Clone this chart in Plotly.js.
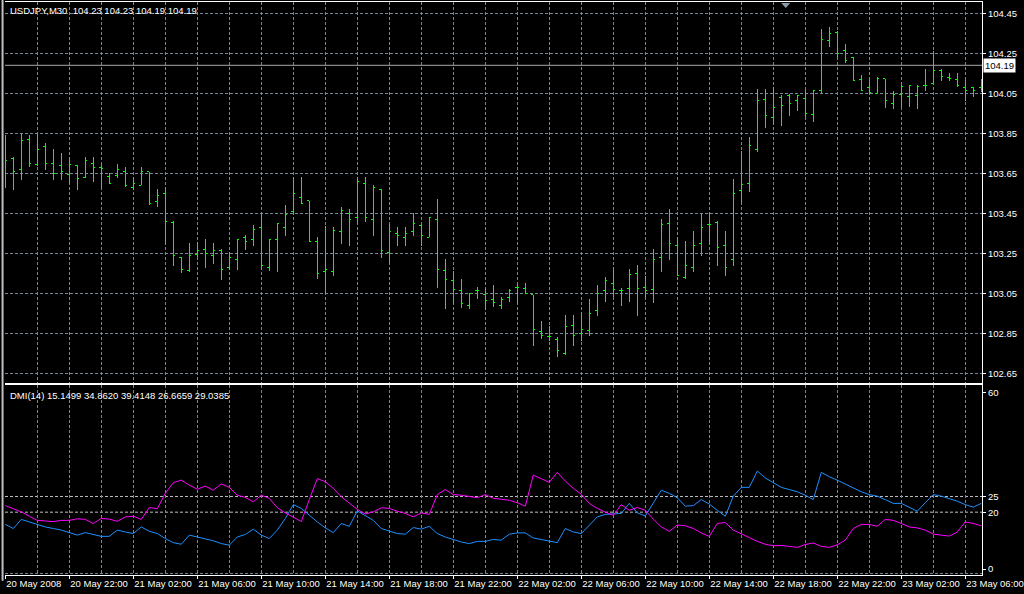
<!DOCTYPE html>
<html><head><meta charset="utf-8">
<script src="https://cdn.plot.ly/plotly-3.0.1.min.js"></script>
<style>html,body{margin:0;padding:0;background:#000;}#chart{width:1024px;height:594px;}
#chart .ohlclayer path{shape-rendering:crispEdges;}</style>
</head><body><div id="chart"></div>
<script>
// ---- data (USDJPY, M30, bars from 20 May 2008 18:00) ----
const startTime = Date.UTC(2008, 4, 20, 18, 0);
const barMinutes = 30;

const openP = [103.62,103.722,103.67,103.82,103.692,103.783,103.70,103.69,103.645,103.688,103.63,103.70,103.68,103.633,103.638,103.658,103.58,103.59,103.658,103.51,103.55,103.403,103.23,103.162,103.246,103.27,103.24,103.262,103.178,103.22,103.328,103.32,103.378,103.178,103.32,103.38,103.46,103.53,103.512,103.31,103.16,103.16,103.358,103.45,103.43,103.60,103.42,103.57,103.253,103.35,103.33,103.358,103.388,103.33,103.42,103.162,103.112,103.062,102.99,103.062,103.042,103.02,102.99,103.03,103.08,103.072,103.042,102.858,102.832,102.82,102.75,102.89,102.85,102.862,102.962,103.062,103.10,103.062,103.072,103.15,103.08,103.07,103.23,103.40,103.288,103.13,103.18,103.30,103.392,103.405,103.29,103.22,103.562,103.60,103.77,104.02,103.93,104.03,104.037,104.013,104.022,103.942,104.062,104.312,104.355,104.262,104.23,104.12,104.08,104.05,104.122,104.00,104.042,104.033,104.038,104.088,104.10,104.162,104.13,104.12,104.08,104.08,104.08];
const highP = [103.842,103.732,103.85,103.842,103.847,103.80,103.77,103.75,103.733,103.692,103.733,103.733,103.692,103.65,103.695,103.683,103.633,103.68,103.658,103.57,103.58,103.413,103.23,103.303,103.305,103.32,103.303,103.27,103.258,103.32,103.342,103.392,103.45,103.32,103.40,103.49,103.633,103.63,103.512,103.33,103.388,103.38,103.483,103.47,103.633,103.63,103.59,103.57,103.395,103.38,103.38,103.45,103.395,103.43,103.522,103.22,103.162,103.12,103.05,103.08,103.078,103.092,103.03,103.072,103.096,103.10,103.042,102.912,102.887,102.832,102.942,102.942,102.953,103.022,103.092,103.13,103.18,103.075,103.172,103.192,103.138,103.272,103.42,103.47,103.333,103.311,103.363,103.45,103.45,103.412,103.362,103.62,103.762,103.833,104.07,104.07,104.083,104.042,104.047,104.042,104.067,104.063,104.37,104.38,104.362,104.295,104.23,104.142,104.122,104.13,104.122,104.062,104.092,104.092,104.092,104.172,104.263,104.172,104.153,104.153,104.117,104.083,104.122];
const lowP = [103.575,103.567,103.617,103.683,103.687,103.667,103.617,103.617,103.595,103.567,103.625,103.608,103.575,103.596,103.628,103.58,103.567,103.59,103.492,103.48,103.296,103.188,103.15,103.158,103.233,103.178,103.196,103.117,103.167,103.167,103.267,103.288,103.17,103.163,103.158,103.338,103.44,103.50,103.308,103.12,103.05,103.136,103.296,103.288,103.408,103.408,103.338,103.228,103.2,103.288,103.288,103.338,103.288,103.33,103.078,102.97,102.996,102.975,102.97,103.02,102.966,102.98,102.97,103.008,102.996,103.05,102.788,102.82,102.813,102.73,102.742,102.788,102.813,102.838,102.938,103.008,103.033,102.988,103.008,102.938,103.025,103.0,103.158,103.216,103.138,103.12,103.158,103.238,103.296,103.188,103.138,103.188,103.508,103.558,103.758,103.878,103.895,103.888,103.938,103.963,103.933,103.908,104.053,104.28,104.225,104.2,104.112,104.062,104.047,104.05,103.978,103.97,103.98,103.98,103.97,104.062,104.1,104.112,104.112,104.08,104.012,104.03,104.058];
const closeP = [103.712,103.658,103.812,103.70,103.77,103.70,103.65,103.66,103.695,103.622,103.712,103.678,103.672,103.60,103.67,103.59,103.60,103.658,103.50,103.54,103.41,103.238,103.17,103.24,103.262,103.25,103.262,103.17,103.23,103.32,103.308,103.37,103.188,103.32,103.40,103.446,103.55,103.50,103.31,103.15,103.17,103.366,103.462,103.42,103.61,103.43,103.58,103.262,103.358,103.338,103.35,103.40,103.338,103.43,103.17,103.12,103.07,103.0,103.05,103.062,103.012,103.003,103.02,103.062,103.08,103.05,102.87,102.84,102.832,102.762,102.882,102.84,102.87,102.95,103.05,103.112,103.07,103.062,103.142,103.072,103.062,103.22,103.395,103.30,103.138,103.19,103.29,103.38,103.392,103.28,103.18,103.55,103.592,103.788,104.012,103.938,103.98,103.988,104.0,104.037,103.95,104.062,104.32,104.35,104.25,104.212,104.112,104.063,104.055,104.122,104.012,104.045,104.083,104.087,104.083,104.088,104.162,104.133,104.122,104.087,104.062,104.062,104.1];

const diPlus = [16.1,14.8,17.7,16.9,15.9,15.3,14.8,14.3,13.5,12.7,13.5,13.0,12.3,12.3,14.3,13.7,13.2,15.3,13.9,13.2,11.6,10.3,9.8,12.7,12.1,11.4,10.9,10.0,9.5,12.1,12.9,14.6,12.7,11.6,14.3,18.0,22.4,21.2,19.0,16.9,15.0,13.5,16.4,15.5,20.4,19.0,17.4,14.8,13.9,13.2,13.0,15.1,14.6,15.5,13.2,12.1,11.3,10.5,10.0,10.7,10.7,11.3,11.1,13.0,13.4,13.4,11.8,11.3,10.9,10.3,14.8,13.7,13.2,15.9,18.5,19.3,19.4,19.6,22.8,19.8,18.8,22.8,27.0,26.0,24.6,21.9,22.1,24.0,22.6,20.6,18.7,25.1,27.9,27.9,33.1,30.9,29.4,27.9,27.2,26.5,25.4,24.0,32.7,31.3,30.2,28.9,27.6,26.5,25.6,25.1,24.0,22.8,22.8,21.5,20.3,23.0,25.6,25.1,24.4,23.5,22.4,21.6,22.8];
const diMinus = [22.1,21.2,20.1,18.7,17.4,17.2,17.0,17.4,17.4,17.9,17.7,16.4,18.0,17.8,17.1,18.5,18.7,17.7,21.5,21.1,26.0,29.4,30.2,28.6,27.3,28.3,27.0,29.0,27.9,25.4,24.7,23.3,25.4,24.4,21.4,19.8,18.3,17.0,24.0,30.7,29.7,27.6,24.9,23.0,20.9,19.4,20.1,21.4,21.2,20.3,19.6,18.5,19.8,19.3,25.6,27.2,25.6,25.4,25.1,24.6,25.6,24.4,24.1,23.8,23.0,21.9,31.8,30.6,29.5,32.7,29.9,27.6,25.7,22.8,21.2,20.0,19.0,22.4,20.6,21.5,20.6,17.8,15.3,13.9,15.9,15.7,14.8,13.4,12.3,16.4,16.7,14.3,13.2,11.9,10.7,9.8,9.3,9.4,9.1,8.8,9.7,10.2,9.1,8.8,9.6,11.1,14.8,16.1,16.1,15.5,17.7,17.4,16.4,15.3,15.0,14.3,13.0,12.6,12.4,13.7,16.9,16.4,15.7];

const timeTickText = ["20 May 2008","20 May 22:00","21 May 02:00","21 May 06:00","21 May 10:00","21 May 14:00","21 May 18:00","21 May 22:00","22 May 02:00","22 May 06:00","22 May 10:00","22 May 14:00","22 May 18:00","22 May 22:00","23 May 02:00","23 May 06:00"];
const priceTicks = [102.65,102.85,103.05,103.25,103.45,103.65,103.85,104.05,104.25,104.45];
const dmiTickText = ["0","20","25","60"];
const dmiLevels = [20, 25];
const lastPrice = 104.19;
const headerText = "USDJPY,M30\u00a0\u00a0104.23 104.23 104.19 104.19";
const dmiText = "DMI(14) 15.1499 34.8620 39.4148 26.6659 29.0385";

// ---- build ----
function fmt(ms){ return new Date(ms).toISOString().slice(0,19).replace('T',' '); }
const times = openP.map((_, i) => fmt(startTime + i*barMinutes*60000));
const tickVals = timeTickText.map((_, k) => times[k*8]);

const FONT = "Liberation Sans, Arial, sans-serif";
const GRID = "#778899";
const DASH = "3px,2px";
const GREEN = "#00ff00";

const traces = [
  {type:'ohlc', x:times, open:openP, high:highP, low:lowP, close:closeP,
   xaxis:'x', yaxis:'y', tickwidth:0.25, hoverinfo:'skip',
   increasing:{line:{color:GREEN, width:1}}, decreasing:{line:{color:GREEN, width:1}}},
  {type:'scatter', mode:'lines', x:times, y:diPlus, xaxis:'x2', yaxis:'y2',
   line:{color:'#1e90ff', width:1}, hoverinfo:'skip'},
  {type:'scatter', mode:'lines', x:times, y:diMinus, xaxis:'x2', yaxis:'y2',
   line:{color:'#ff00ff', width:1}, hoverinfo:'skip'}
];

const xRange = [fmt(startTime - 68000), fmt(startTime + 122.09*barMinutes*60000)];
const xCommon = {
  type:'date', range:xRange, tickmode:'array', tickvals:tickVals,
  showgrid:true, gridcolor:GRID, griddash:DASH, gridwidth:1,
  minor:{tickmode:'linear', tick0:times[0], dtick:2*3600*1000, showgrid:true, gridcolor:GRID, griddash:DASH, gridwidth:1, ticks:''},
  zeroline:false, showline:true, linecolor:'#ffffff', linewidth:1, mirror:true,
  rangeslider:{visible:false}, fixedrange:true
};

const layout = {
  width:1024, height:594,
  paper_bgcolor:'#000000', plot_bgcolor:'#000000',
  margin:{l:5, r:42, t:2, b:19},
  showlegend:false,
  font:{family:FONT, size:9.5, color:'#ffffff'},
  xaxis: Object.assign({}, xCommon, {anchor:'y', showticklabels:false, ticks:''}),
  xaxis2: Object.assign({}, xCommon, {anchor:'y2', matches:'x', ticktext:timeTickText, showticklabels:true,
    ticks:'outside', ticklen:3, tickcolor:'#ffffff', ticklabelposition:'outside right', tickangle:0,
    tickfont:{family:FONT, size:9.5, color:'#ffffff'}}),
  yaxis: {domain:[0.3346, 1], range:[102.60, 104.5065], side:'right', anchor:'x',
    tickmode:'array', tickvals:priceTicks, tickformat:'.2f',
    showgrid:true, gridcolor:GRID, griddash:DASH, gridwidth:1, zeroline:false,
    showline:true, linecolor:'#ffffff', linewidth:1, ticks:'outside', ticklen:3, tickcolor:'#ffffff',
    tickfont:{family:FONT, size:9.5, color:'#ffffff'}, fixedrange:true},
  yaxis2: {domain:[0, 0.3311], range:[0, 60.4], side:'right', anchor:'x2',
    tickmode:'array', tickvals:[1.9, 20, 25, 58.1], ticktext:dmiTickText,
    showgrid:false, zeroline:false,
    showline:true, linecolor:'#ffffff', linewidth:1, ticks:'outside', ticklen:3, tickcolor:'#ffffff',
    tickfont:{family:FONT, size:9.5, color:'#ffffff'}, fixedrange:true},
  shapes: [
    {type:'line', xref:'paper', x0:0, x1:1, yref:'y', y0:lastPrice, y1:lastPrice, line:{color:'#a8a8a8', width:1}, layer:'below'},
    ...dmiLevels.map(v => ({type:'line', xref:'paper', x0:0, x1:1, yref:'y2', y0:v, y1:v, line:{color:'#c0c0c0', width:1, dash:DASH}, layer:'below'})),
    {type:'line', xref:'paper', x0:0, x1:1, yref:'y2', y0:0.5, y1:0.5, line:{color:GRID, width:1, dash:DASH}, layer:'below'},
    {type:'line', xref:'paper', x0:-0.0025, x1:-0.0025, yref:'paper', y0:-0.01, y1:1.004, line:{color:'#c0c0c0', width:2}},
    {type:'path', xref:'paper', yref:'paper', xsizemode:'pixel', ysizemode:'pixel', xanchor:0.7991, yanchor:1,
     path:'M -4.5,-1 L 4.5,-1 L 0,-6 Z', fillcolor:'#8c9aa8', line:{width:0}}
  ],
  annotations: [
    {xref:'paper', yref:'paper', x:0.003, y:0.9843, xanchor:'left', yanchor:'middle', showarrow:false,
     text:headerText, font:{family:FONT, size:9.5, color:'#ffffff'}},
    {xref:'paper', yref:'paper', x:0.003, y:0.3141, xanchor:'left', yanchor:'middle', showarrow:false,
     text:dmiText, font:{family:FONT, size:9.5, color:'#ffffff'}},
    {xref:'paper', yref:'y', x:1, y:lastPrice, xanchor:'left', yanchor:'middle', xshift:1, showarrow:false,
     text:lastPrice.toFixed(2), bgcolor:'#ffffff', borderpad:1, font:{family:FONT, size:9.5, color:'#000000'}}
  ]
};

Plotly.newPlot('chart', traces, layout, {staticPlot:true, displayModeBar:false});
</script>
</body></html>
